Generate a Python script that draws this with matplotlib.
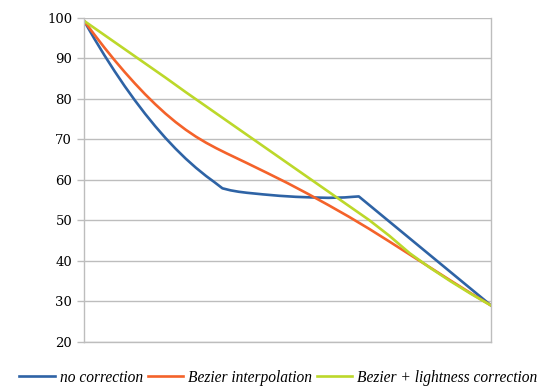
import numpy as np
import matplotlib
matplotlib.use("Agg")
import matplotlib.pyplot as plt

# x positions (arbitrary 0..100 scale, no labels on the x axis)
x_blue = [0, 2.5, 5, 7.5, 10, 12.5, 15, 17.5, 20, 22.5, 25, 27.5, 30, 32, 34,
          36, 38, 40, 44, 48, 52, 56, 60, 64, 66, 67.5, 100]
no_correction = [99.2, 94.86, 90.72, 86.8, 83.08, 79.58, 76.28, 73.2, 70.32, 67.66, 65.2, 62.96, 60.92, 59.44, 57.9,
                 57.4, 57.05, 56.8, 56.4, 56.05, 55.8, 55.65, 55.55, 55.65, 55.8, 55.9, 29.0]

x_orange = [0, 2.5, 5, 7.5, 10, 12.5, 15, 17.5, 20, 22.5, 25, 27.5, 30, 32.5, 35, 37.5, 40,
            45, 50, 55, 60, 65, 70, 75, 80, 85, 90, 95, 100]
bezier_interp = [99.2, 95.85, 92.6, 89.5, 86.55, 83.75, 81.1, 78.63, 76.33, 74.23, 72.33, 70.63, 69.13,
                 67.78, 66.53, 65.33, 64.13, 61.68, 59.18, 56.53, 53.78, 50.93, 47.93, 44.78, 41.58,
                 38.38, 35.18, 32.03, 29.0]

x_green = [0, 5, 10, 15, 20, 25, 30, 35, 40, 45, 50, 55, 60, 65, 70, 75, 80, 85, 90, 95, 100]
bezier_lightness = [99.2, 95.7, 92.2, 88.7, 85.2, 81.6, 78.1, 74.6, 71.1, 67.6, 64.1,
                    60.6, 57.1, 53.6, 50.1, 46.2, 41.9, 38.3, 35.0, 31.9, 29.0]

series_names = ["no correction", "Bezier interpolation", "Bezier + lightness correction"]
y_ticks = [20, 30, 40, 50, 60, 70, 80, 90, 100]

grid_col = "#bdbdbd"

fig = plt.figure(figsize=(5.6, 3.9), dpi=100)
ax = fig.add_axes([0.15, 0.123, 0.727, 0.832])

ax.plot(x_blue, no_correction, color="#2e63a5", lw=1.9, label=series_names[0])
ax.plot(x_orange, bezier_interp, color="#f4622a", lw=1.9, label=series_names[1])
ax.plot(x_green, bezier_lightness, color="#bcd82a", lw=1.9, label=series_names[2])

ax.set_xlim(0, 100)
ax.set_ylim(20, 100)
ax.set_yticks(y_ticks)
ax.set_yticklabels([str(v) for v in y_ticks], fontfamily="DejaVu Serif", fontsize=9.5)
ax.set_xticks([])
ax.yaxis.grid(True, color=grid_col, lw=1)
ax.set_axisbelow(True)
ax.tick_params(axis="y", length=5, color=grid_col, width=1, pad=3.5)
for s in ["left", "right", "bottom"]:
    ax.spines[s].set_color(grid_col)
    ax.spines[s].set_linewidth(1)
ax.spines["top"].set_visible(False)

fig.legend(loc="center", bbox_to_anchor=(0.497, 0.031), ncol=3, frameon=False,
           prop={"family": "Liberation Serif", "style": "italic", "size": 11.2},
           handlelength=2.3, handletextpad=0.3, columnspacing=0.3, borderaxespad=0)

fig.savefig("out.png", dpi=100)
